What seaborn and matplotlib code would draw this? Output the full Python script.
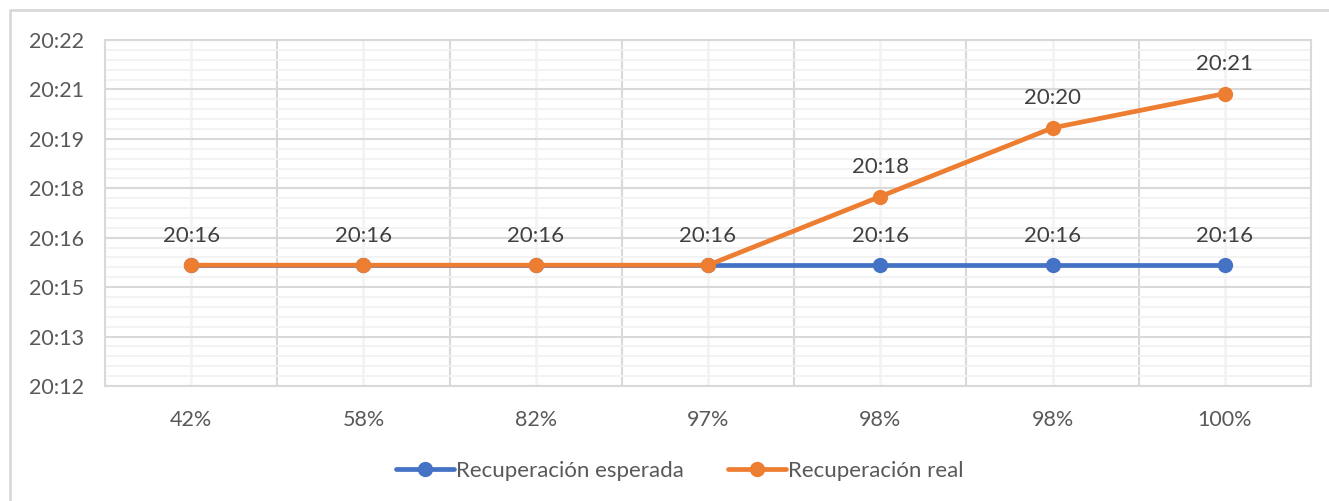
import numpy as np
import pandas as pd
import seaborn as sns
import matplotlib.pyplot as plt
from matplotlib.ticker import FuncFormatter, FixedLocator
from matplotlib.lines import Line2D

# category labels (two "98%" values, so plotted by position)
categories = ['42%', '58%', '82%', '97%', '98%', '98%', '100%']
esperada = ['20:16', '20:16', '20:16', '20:16', '20:16', '20:16', '20:16']
real = ['20:16', '20:16', '20:16', '20:16', '20:18', '20:20', '20:21']
series_names = ['Recuperación esperada', 'Recuperación real']
colors = ['#4472C4', '#ED7D31']

# y axis in Excel style: day fractions 0.842 .. 0.849, major unit 0.001
y_min_day, y_max_day, y_step_day = 0.842, 0.849, 0.001


def to_minutes(t):
    h, m = t.split(':')
    return int(h) * 60 + int(m)


def fmt_time(v, pos=None):
    total = int(np.floor(v + 1e-6))
    return f'{total // 60}:{total % 60:02d}'


pos = np.arange(len(categories))
df = pd.concat([
    pd.DataFrame({'pos': pos, 'minutes': [to_minutes(t) for t in vals],
                  'label': vals, 'serie': name})
    for name, vals in zip(series_names, [esperada, real])
])

sns.set_style('white')
plt.rcParams['font.family'] = ['Lato', 'DejaVu Sans']
text_color = '#595959'

fig = plt.figure(figsize=(13.29, 5.01), dpi=100)
ax = fig.add_axes([105 / 1329, 1 - 386 / 501, (1311 - 105) / 1329, (386 - 40) / 501])

sns.lineplot(data=df, x='pos', y='minutes', hue='serie', hue_order=series_names,
             palette=colors, marker='o', markersize=11, markeredgewidth=0,
             linewidth=3.4, sort=False, legend=False, ax=ax, zorder=3)

# data labels (identical labels on top of each other drawn once)
labels = df.drop_duplicates(subset=['pos', 'minutes'])
for _, r in labels.iterrows():
    ax.annotate(r['label'], (r['pos'], r['minutes']), xytext=(0, 14),
                textcoords='offset points', ha='center', va='bottom',
                fontsize=16, color='#404040', zorder=4)

y_lo, y_hi = y_min_day * 1440, y_max_day * 1440
major = y_step_day * 1440
ax.set_ylim(y_lo, y_hi)
ax.yaxis.set_major_locator(FixedLocator(y_lo + major * np.arange(8)))
ax.yaxis.set_minor_locator(FixedLocator(y_lo + major / 5 * np.arange(36)))
ax.yaxis.set_major_formatter(FuncFormatter(fmt_time))

ax.set_xlim(-0.5, len(categories) - 0.5)
ax.set_xticks(pos)
ax.set_xticklabels(categories)
ax.xaxis.set_minor_locator(FixedLocator(np.arange(len(categories) + 1) - 0.5))

ax.grid(which='minor', axis='y', color='#F2F2F2', linewidth=1.3, zorder=0)
ax.grid(which='major', axis='y', color='#D9D9D9', linewidth=1.5, zorder=1)
ax.grid(which='major', axis='x', color='#F2F2F2', linewidth=1.8, zorder=0)
ax.grid(which='minor', axis='x', color='#D9D9D9', linewidth=1.5, zorder=1)
ax.set_axisbelow(True)

for s in ax.spines.values():
    s.set_color('#D9D9D9')
    s.set_linewidth(1.5)

ax.tick_params(axis='both', which='both', length=0, labelsize=15.5, colors=text_color)
ax.tick_params(axis='y', pad=15)
ax.tick_params(axis='x', pad=17)
ax.set_xlabel('')
ax.set_ylabel('')

# legend
handles = [Line2D([0], [0], color=c, linewidth=3.4, marker='o', markersize=11,
                  markeredgewidth=0) for c in colors]
fig.legend(handles, series_names, loc='center', bbox_to_anchor=(680 / 1329, 1 - 471 / 501),
           ncol=2, frameon=False, fontsize=16, labelcolor=text_color,
           handlelength=2.6, handletextpad=0.1, columnspacing=2.0)

# chart area border (top-left corner visible)
fig.add_artist(Line2D([10 / 1329, 10 / 1329], [0, 1 - 10 / 501], color='#D9D9D9',
                      linewidth=2, transform=fig.transFigure))
fig.add_artist(Line2D([10 / 1329, 1], [1 - 10 / 501, 1 - 10 / 501], color='#D9D9D9',
                      linewidth=2, transform=fig.transFigure))

fig.savefig('out.png', dpi=100)
